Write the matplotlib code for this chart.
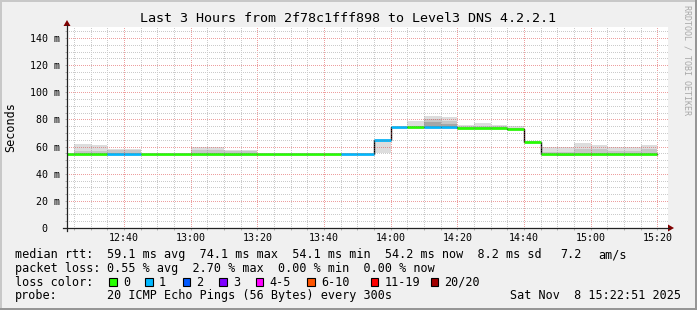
import matplotlib
matplotlib.use("Agg")
import matplotlib.pyplot as plt
from matplotlib.patches import Rectangle, Polygon
import numpy as np

# 5 minute steps (start of each step)
times = ["12:20", "12:25", "12:30", "12:35", "12:40", "12:45", "12:50", "12:55",
         "13:00", "13:05", "13:10", "13:15", "13:20", "13:25", "13:30", "13:35",
         "13:40", "13:45", "13:50", "13:55", "14:00", "14:05", "14:10", "14:15",
         "14:20", "14:25", "14:30", "14:35", "14:40", "14:45", "14:50", "14:55",
         "15:00", "15:05", "15:10", "15:15"]

# median rtt (ms)
median = [54.3, 54.3, 54.3, 54.3, 54.3, 54.3, 54.3, 54.3, 54.3, 54.3, 54.3, 54.3,
          54.3, 54.3, 54.3, 54.3, 54.3, 54.3, 54.3, 64.8, 74.1, 74.1, 74.1, 74.1,
          74.0, 74.0, 74.0, 73.2, 63.3, 54.2, 54.2, 54.2, 54.2, 54.2, 54.2, 54.2]

# lost pings (of 20)
loss = [0, 0, 0, 1, 1, 0, 0, 0, 0, 0, 0, 0, 0, 0, 0, 0, 0, 1, 1, 1, 1, 0, 1, 1,
        0, 0, 0, 0, 0, 0, 0, 0, 0, 0, 0, 0]

# smoke (spread of the 20 pings)
smoke_lo = [54.3, 54.3, 54.3, 54.3, 54.3, 54.3, 54.3, 54.3, 54.3, 54.3, 52.8, 54.3,
            54.3, 54.3, 54.3, 54.3, 54.3, 54.3, 54.3, 55.0, 74.1, 74.1, 74.1, 74.1,
            74.0, 74.0, 74.0, 73.2, 62.6, 54.2, 52.8, 54.2, 54.2, 54.2, 54.2, 54.2]
smoke_hi = [54.3, 62.0, 61.0, 58.4, 58.4, 54.3, 54.3, 54.3, 59.9, 59.9, 57.7, 57.7,
            54.3, 54.3, 54.3, 54.3, 54.3, 55.4, 55.4, 64.8, 74.1, 79.0, 82.6, 81.6,
            75.9, 77.5, 76.0, 75.2, 64.3, 59.7, 59.7, 62.9, 61.4, 59.9, 59.5, 61.4]
smoke_mid = [54.3, 57.0, 57.0, 57.2, 57.2, 54.3, 54.3, 54.3, 57.5, 57.5, 56.5, 56.5,
             54.3, 54.3, 54.3, 54.3, 54.3, 54.3, 54.3, 55.0, 74.1, 75.5, 80.0, 79.0,
             74.8, 75.0, 74.8, 74.0, 63.3, 56.0, 56.0, 58.5, 58.5, 57.0, 57.0, 58.0]
smoke_core = [54.3, 54.3, 54.3, 54.3, 54.3, 54.3, 54.3, 54.3, 54.3, 54.3, 54.3, 54.3,
              54.3, 54.3, 54.3, 54.3, 54.3, 54.3, 54.3, 64.8, 74.1, 74.1, 78.0, 77.0,
              74.0, 74.0, 74.0, 73.2, 63.3, 54.2, 54.2, 54.2, 54.2, 54.2, 54.2, 54.2]

loss_labels = ["0", "1", "2", "3", "4-5", "6-10", "11-19", "20/20"]
loss_colors = ["#26ff00", "#00b8ff", "#0059ff", "#7e00ff", "#ff00ff", "#ff5500",
               "#ff0000", "#a10000"]

xtick_labels = ["12:40", "13:00", "13:20", "13:40", "14:00", "14:20", "14:40",
                "15:00", "15:20"]
ytick_vals = [0, 20, 40, 60, 80, 100, 120, 140]
ytick_labels = ["0  ", "20 m", "40 m", "60 m", "80 m", "100 m", "120 m", "140 m"]


def to_min(s):
    h, m = s.split(":")
    return (int(h) - 12) * 60 + int(m)


t = np.array([to_min(s) for s in times], dtype=float)
med = np.array(median)
STEP = 5

W, H = 697, 310
plt.rcParams["font.family"] = "DejaVu Sans Mono"

fig = plt.figure(figsize=(W / 100, H / 100), dpi=100, facecolor="#f0f0f0")

# plot area in pixels: x 67..668, y 27..228
PL, PR, PT, PB = 67, 668, 27, 228
ax = fig.add_axes([PL / W, (H - PB) / H, (PR - PL) / W, (PB - PT) / H])
ax.set_facecolor("white")
x0 = to_min("12:22") + 51 / 60
ax.set_xlim(x0, x0 + (PR - PL) / 3.333)
ax.set_ylim(0, (PB - PT) / 27.14 * 20)

for s in ax.spines.values():
    s.set_visible(False)

xmaj = [to_min(s) for s in xtick_labels]
xmin = list(range(25, 205, 5))
ymin = list(range(0, 150, 5))
ax.set_xticks(xmaj)
ax.set_xticklabels(xtick_labels)
ax.set_xticks(xmin, minor=True)
ax.set_yticks(ytick_vals)
ax.set_yticklabels(ytick_labels)
ax.set_yticks(ymin, minor=True)
ax.tick_params(which="both", length=1.5, width=0.7, color="#b0b0b0", labelsize=7.2,
               direction="out")
ax.tick_params(axis="y", which="major", pad=3.6)
ax.tick_params(axis="x", which="major", pad=1.8)

# smoke
ax.bar(t, np.array(smoke_hi) - np.array(smoke_lo), bottom=smoke_lo, width=STEP,
       align="edge", color="#dddddd", linewidth=0, zorder=2)
ax.bar(t, np.array(smoke_mid) - np.array(smoke_lo), bottom=smoke_lo, width=STEP,
       align="edge", color="#c6c6c6", linewidth=0, zorder=2)
ax.bar(t, np.array(smoke_core) - med, bottom=med, width=STEP,
       align="edge", color="#a6a6a6", linewidth=0, zorder=2)

# median line, coloured by loss
ax.step(np.append(t, t[-1] + STEP), np.append(med, med[-1]), where="post",
        color="#000000", linewidth=1.0, zorder=3)
seg_colors = [loss_colors[l] for l in loss]
ax.hlines(med, t, t + STEP, colors=seg_colors, linewidth=1.9, zorder=4)

# dotted grid, placed pixel by pixel (1 on / 1 off like rrdtool)
gw, gh = PR - PL, PB - PT
grid = np.zeros((gh, gw, 4))
minor_c = (0.55, 0.55, 0.55, 0.45)
major_c = (0.86, 0.25, 0.25, 0.5)
for x in xmin:
    c = int(round(ax.transData.transform((x, 0))[0])) - PL
    if 0 <= c < gw:
        grid[1::2, c] = major_c if x in xmaj else minor_c
for y in ymin:
    r = (H - PT) - int(round(ax.transData.transform((0, y))[1]))
    if 0 <= r < gh:
        grid[r, 0::2] = major_c if y in ytick_vals else minor_c
fig.figimage(grid, xo=PL, yo=H - PB, origin="upper", zorder=1)

# overlay in pixel coordinates for frame, axes arrows and legend
ov = fig.add_axes([0, 0, 1, 1], zorder=5)
ov.set_xlim(0, W)
ov.set_ylim(H, 0)
ov.axis("off")
ov.patch.set_visible(False)

ov.plot([0, W], [0.7, 0.7], color="#c8c8c8", lw=1.44)
ov.plot([0.7, 0.7], [0, H], color="#c8c8c8", lw=1.44)
ov.plot([0, W], [H - 1, H - 1], color="#969696", lw=1.44)
ov.plot([W - 1, W - 1], [0, H], color="#969696", lw=1.44)

ov.plot([63, 669], [228, 228], color="#222222", lw=0.9)
ov.plot([67, 67], [231, 25], color="#222222", lw=0.9)
ov.add_patch(Polygon([[668, 224.5], [668, 231.5], [674, 228]], closed=True,
                     color="#800000", lw=0))
ov.add_patch(Polygon([[63.5, 26], [70.5, 26], [67, 20]], closed=True,
                     color="#800000", lw=0))

ov.text(348.5, 19, "Last 3 Hours from 2f78c1fff898 to Level3 DNS 4.2.2.1",
        ha="center", va="center", fontsize=9.6)
ov.text(10.8, 127.5, "Seconds", rotation=90, ha="center", va="center", fontsize=8.5)
ov.text(687.5, 60, "RRDTOOL / TOBI OETIKER", rotation=270, ha="center", va="center",
        fontsize=6, color="#a8a8a8")

fs = 8.5
rows = [254.5, 268.3, 282.0, 295.8]
ov.text(15, rows[0], "median rtt:", va="center", fontsize=fs)
ov.text(107, rows[0], "59.1 ms avg  74.1 ms max  54.1 ms min  54.2 ms now  8.2 ms sd",
        va="center", fontsize=fs)
ov.text(560, rows[0], "7.2", va="center", fontsize=fs)
ov.text(598, rows[0], "am/s", va="center", fontsize=fs)
ov.text(15, rows[1], "packet loss:", va="center", fontsize=fs)
ov.text(107, rows[1], "0.55 % avg  2.70 % max  0.00 % min  0.00 % now",
        va="center", fontsize=fs)
ov.text(15, rows[2], "loss color:", va="center", fontsize=fs)
sw_x = [109.3, 145.3, 182.7, 219.3, 256.0, 307.3, 371.0, 430.7]
for xs, lab, col in zip(sw_x, loss_labels, loss_colors):
    ov.add_patch(Rectangle((xs, rows[2] - 3.7), 7.4, 7.4, facecolor=col,
                           edgecolor="black", lw=0.8))
    ov.text(xs + 13.5, rows[2], lab, va="center", fontsize=fs)
ov.text(15, rows[3], "probe:", va="center", fontsize=fs)
ov.text(107, rows[3], "20 ICMP Echo Pings (56 Bytes) every 300s", va="center", fontsize=fs)
ov.text(681, rows[3], "Sat Nov  8 15:22:51 2025", ha="right", va="center", fontsize=fs)

fig.savefig("out.png", dpi=100, facecolor=fig.get_facecolor())
